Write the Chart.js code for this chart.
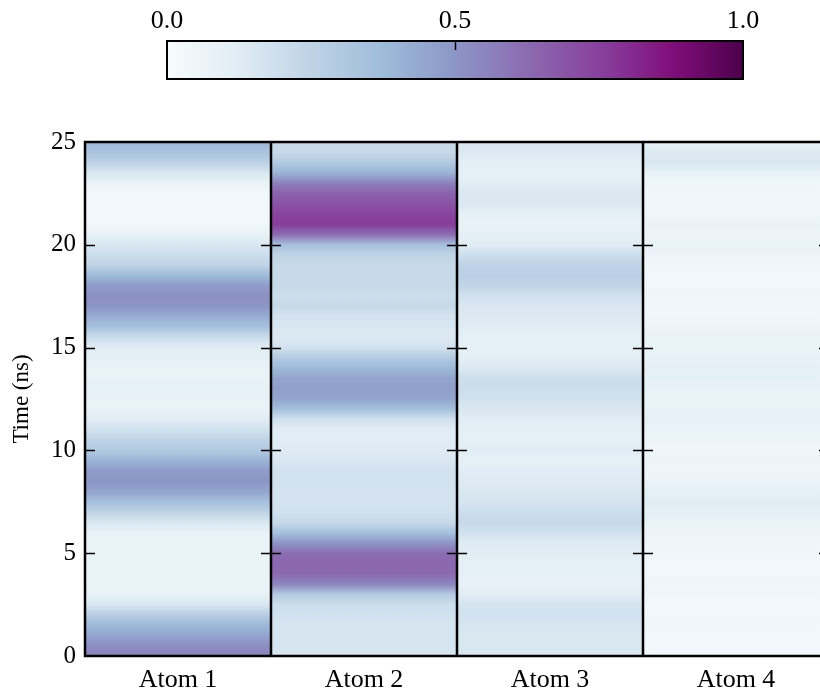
<!DOCTYPE html>
<html>
<head>
<meta charset="utf-8">
<script src="https://cdn.jsdelivr.net/npm/chart.js@4/dist/chart.umd.min.js"></script>
<style>
  html, body { margin: 0; padding: 0; background: #fff; overflow: hidden; }
  canvas { position: absolute; left: 0; top: 0; }
</style>
</head>
<body>
<canvas id="main" width="830" height="691"></canvas>
<canvas id="cbar" width="820" height="100"></canvas>
<script>
const atoms = ["Atom 1", "Atom 2", "Atom 3", "Atom 4"];
const timeNs = [0, 0.5, 1, 1.5, 2, 2.5, 3, 3.5, 4, 4.5, 5, 5.5, 6, 6.5, 7, 7.5, 8, 8.5, 9, 9.5,
  10, 10.5, 11, 11.5, 12, 12.5, 13, 13.5, 14, 14.5, 15, 15.5, 16, 16.5, 17, 17.5, 18, 18.5, 19, 19.5,
  20, 20.5, 21, 21.5, 22, 22.5, 23, 23.5, 24, 24.5, 25];
const atom1 = [0.56, 0.52, 0.45, 0.38, 0.28, 0.15, 0.08, 0.07, 0.07, 0.07, 0.07, 0.07, 0.08, 0.15, 0.25, 0.35, 0.45, 0.50, 0.48, 0.40,
  0.30, 0.25, 0.18, 0.12, 0.08, 0.08, 0.09, 0.08, 0.08, 0.10, 0.12, 0.20, 0.35, 0.42, 0.50, 0.52, 0.48, 0.38, 0.25, 0.20,
  0.15, 0.08, 0.04, 0.03, 0.03, 0.03, 0.07, 0.15, 0.26, 0.33, 0.39];
const atom2 = [0.16, 0.16, 0.16, 0.16, 0.18, 0.20, 0.30, 0.55, 0.63, 0.64, 0.62, 0.50, 0.35, 0.22, 0.18, 0.17, 0.17, 0.18, 0.18, 0.15,
  0.13, 0.12, 0.12, 0.18, 0.35, 0.45, 0.47, 0.45, 0.38, 0.30, 0.18, 0.14, 0.15, 0.17, 0.22, 0.20, 0.22, 0.22, 0.22, 0.25,
  0.35, 0.62, 0.76, 0.74, 0.70, 0.65, 0.56, 0.40, 0.30, 0.22, 0.22];
const atom3 = [0.16, 0.15, 0.15, 0.16, 0.18, 0.17, 0.12, 0.08, 0.10, 0.10, 0.12, 0.13, 0.18, 0.22, 0.20, 0.16, 0.15, 0.13, 0.12, 0.10,
  0.12, 0.10, 0.10, 0.12, 0.15, 0.18, 0.20, 0.20, 0.14, 0.11, 0.10, 0.10, 0.12, 0.14, 0.15, 0.18, 0.24, 0.27, 0.25, 0.20,
  0.12, 0.10, 0.08, 0.10, 0.14, 0.15, 0.12, 0.10, 0.10, 0.14, 0.16];
const atom4 = [0.03, 0.03, 0.03, 0.04, 0.04, 0.03, 0.04, 0.05, 0.04, 0.03, 0.04, 0.05, 0.06, 0.08, 0.10, 0.12, 0.10, 0.07, 0.05, 0.06,
  0.05, 0.06, 0.07, 0.09, 0.08, 0.07, 0.08, 0.09, 0.10, 0.08, 0.07, 0.08, 0.06, 0.04, 0.04, 0.05, 0.04, 0.03, 0.04, 0.06,
  0.08, 0.06, 0.07, 0.05, 0.04, 0.04, 0.05, 0.08, 0.15, 0.14, 0.08];
const atomValues = [atom1, atom2, atom3, atom4];
const yTicks = [0, 5, 10, 15, 20, 25];
const cbarTicks = [0.0, 0.5, 1.0];

// BuPu colour map
const bupu = ['#f7fcfd', '#e0ecf4', '#bfd3e6', '#9ebcda', '#8c96c6', '#8c6bb1', '#88419d', '#810f7c', '#4d004b'];

Chart.defaults.color = '#000';
Chart.defaults.font.family = '"Liberation Serif", "Times New Roman", serif';
Chart.defaults.font.size = 25;

function hexToRgb(h) {
    return [1, 3, 5].map(i => parseInt(h.slice(i, i + 2), 16));
}

function colorAt(v) {
    v = Math.min(Math.max(v, 0), 1);
    const pos = v * (bupu.length - 1);
    const i = Math.min(Math.floor(pos), bupu.length - 2);
    const f = pos - i;
    const a = hexToRgb(bupu[i]), b = hexToRgb(bupu[i + 1]);
    const c = a.map((x, k) => Math.round(x + (b[k] - x) * f));
    return 'rgb(' + c.join(',') + ')';
}

/*
    Vertical gradient for one atom column, stops placed through the y scale
*/
function columnGradient(context) {
    const chart = context.chart;
    if (!chart.chartArea) return null;
    const y = chart.scales.y;
    const vals = atomValues[context.dataIndex];
    const y0 = y.getPixelForValue(timeNs[0]);
    const y1 = y.getPixelForValue(timeNs[timeNs.length - 1]);
    const g = chart.ctx.createLinearGradient(0, y0, 0, y1);
    timeNs.forEach((t, i) => {
        g.addColorStop((y.getPixelForValue(t) - y0) / (y1 - y0), colorAt(vals[i]));
    });
    return g;
}

const panelFrame = {
    id: 'panelFrame',
    afterDatasetsDraw(chart) {
        const {ctx, chartArea: a, scales: {x, y}} = chart;
        const step = x.getPixelForValue(1) - x.getPixelForValue(0);
        ctx.save();
        ctx.strokeStyle = '#000';
        // inward ticks on every panel edge
        ctx.lineWidth = 1.5;
        for (let i = 0; i <= atoms.length; i++) {
            const bx = x.getPixelForValue(i) - step / 2;
            yTicks.slice(1, -1).forEach(t => {
                const py = Math.round(y.getPixelForValue(t)) + 0.5;
                ctx.beginPath();
                ctx.moveTo(Math.max(bx - 10, a.left), py);
                ctx.lineTo(Math.min(bx + 10, a.right), py);
                ctx.stroke();
            });
        }
        // panel borders
        ctx.lineWidth = 2.5;
        for (let i = 1; i < atoms.length; i++) {
            const bx = x.getPixelForValue(i) - step / 2;
            ctx.beginPath();
            ctx.moveTo(bx, a.top);
            ctx.lineTo(bx, a.bottom);
            ctx.stroke();
        }
        ctx.strokeRect(a.left, a.top, a.right - a.left, a.bottom - a.top);
        ctx.restore();
    }
};

new Chart(document.getElementById('main'), {
    type: 'bar',
    data: {
        labels: atoms,
        datasets: [{
            data: atoms.map(() => [timeNs[0], timeNs[timeNs.length - 1]]),
            backgroundColor: columnGradient,
            borderWidth: 0,
            barPercentage: 1,
            categoryPercentage: 1
        }]
    },
    options: {
        responsive: false,
        animation: false,
        devicePixelRatio: 1,
        layout: { padding: { top: 142, right: 1, left: 0, bottom: 0 } },
        plugins: { legend: { display: false }, tooltip: { enabled: false } },
        scales: {
            x: {
                grid: { display: false, drawTicks: false },
                border: { display: false },
                ticks: { padding: 9, font: { size: 26 } },
                afterFit: s => { s.height = 35; }
            },
            y: {
                min: 0,
                max: 25,
                afterBuildTicks: s => { s.ticks = yTicks.map(v => ({ value: v })); },
                ticks: { padding: 9 },
                grid: { display: false, drawTicks: false },
                border: { display: false },
                title: { display: true, text: 'Time (ns)', font: { size: 23 }, padding: { top: 8, bottom: 0 } },
                afterFit: s => { s.width = 85; }
            }
        }
    },
    plugins: [panelFrame]
});

/*
    Colour bar on top
*/
function barGradient(context) {
    const chart = context.chart;
    if (!chart.chartArea) return null;
    const x = chart.scales.x;
    const x0 = x.getPixelForValue(0), x1 = x.getPixelForValue(1);
    const g = chart.ctx.createLinearGradient(x0, 0, x1, 0);
    bupu.forEach((c, i) => g.addColorStop(i / (bupu.length - 1), c));
    return g;
}

const cbarFrame = {
    id: 'cbarFrame',
    afterDatasetsDraw(chart) {
        const {ctx, chartArea: a, scales: {x}} = chart;
        ctx.save();
        ctx.strokeStyle = '#000';
        ctx.lineWidth = 1.5;
        cbarTicks.slice(1, -1).forEach(v => {
            const px = Math.round(x.getPixelForValue(v)) + 0.5;
            ctx.beginPath();
            ctx.moveTo(px, a.top);
            ctx.lineTo(px, a.top + 9);
            ctx.stroke();
        });
        ctx.lineWidth = 2;
        ctx.strokeRect(a.left, a.top, a.right - a.left, a.bottom - a.top);
        ctx.restore();
    }
};

new Chart(document.getElementById('cbar'), {
    type: 'bar',
    data: {
        labels: [''],
        datasets: [{
            data: [[cbarTicks[0], cbarTicks[cbarTicks.length - 1]]],
            backgroundColor: barGradient,
            borderWidth: 0,
            barPercentage: 1,
            categoryPercentage: 1
        }]
    },
    options: {
        indexAxis: 'y',
        responsive: false,
        animation: false,
        devicePixelRatio: 1,
        layout: { padding: { left: 167, right: 77, top: 0, bottom: 21 } },
        plugins: { legend: { display: false }, tooltip: { enabled: false } },
        scales: {
            x: {
                position: 'top',
                min: 0,
                max: 1,
                afterBuildTicks: s => { s.ticks = cbarTicks.map(v => ({ value: v })); },
                ticks: { padding: 4, font: { size: 26 }, callback: v => v.toFixed(1) },
                grid: { display: false, drawTicks: false },
                border: { display: false },
                afterFit: s => { s.height = 41; }
            },
            y: { display: false }
        }
    },
    plugins: [cbarFrame]
});
</script>
</body>
</html>
